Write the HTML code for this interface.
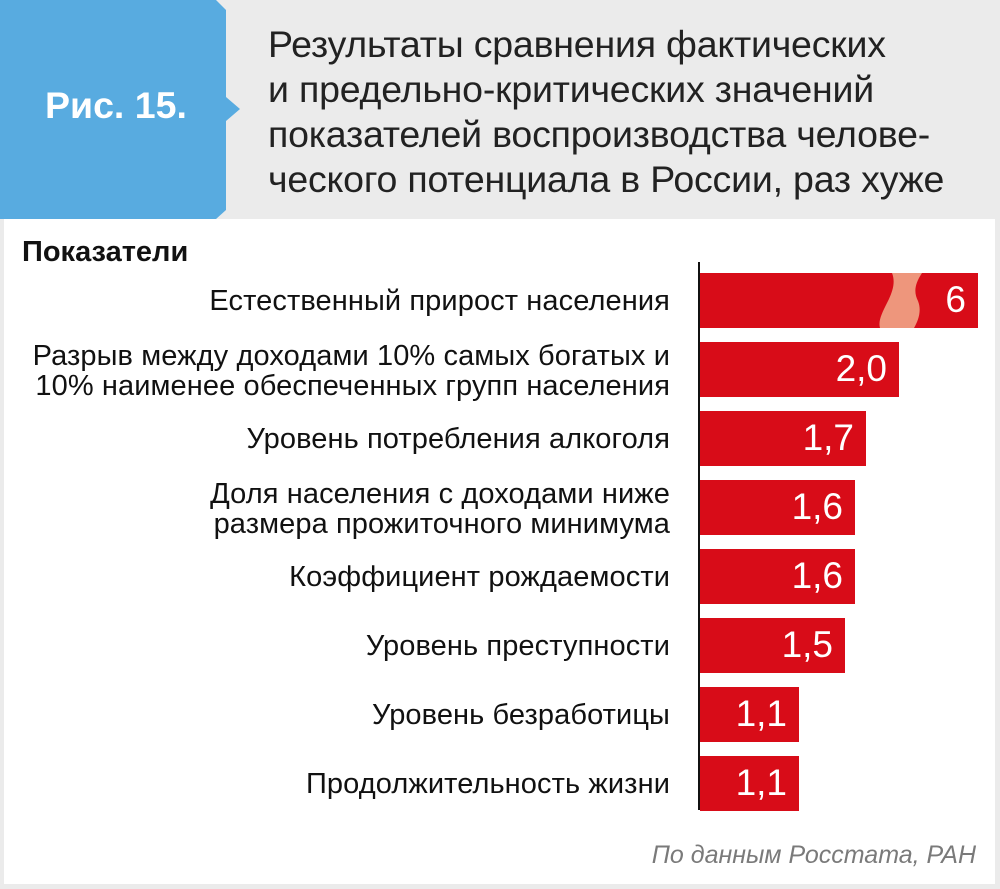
<!DOCTYPE html>
<html><head><meta charset="utf-8"><style>
body{margin:0;width:1000px;height:889px;background:#ebebeb;position:relative;overflow:hidden;font-family:"Liberation Sans","DejaVu Sans",sans-serif;}
.a{position:absolute}
.panel{left:4px;top:219px;width:991px;height:665px;background:#fff}
.title{left:268px;top:22px;font-size:37.5px;line-height:45px;color:#222;letter-spacing:-0.2px;white-space:nowrap}
.lab{position:absolute;right:330px;font-size:29px;line-height:30px;color:#111;text-align:right;white-space:nowrap;letter-spacing:0.1px}
.bar{position:absolute;left:700px;height:55px;background:#d80c18}
.v{position:absolute;right:12px;top:7px;color:#fff;font-size:37px;line-height:40px}
</style></head><body>
<svg class="a" style="left:0;top:0" width="245" height="220">
<polygon points="0,0 216,0 226,10 226,97 240,109 226,121 226,210 216,219 0,219" fill="#58abe0"/>
</svg>
<div class="a" style="left:45px;top:84px;font-size:37.5px;font-weight:bold;color:#fff">Рис. 15.</div>
<div class="a title">Результаты сравнения фактических<br>и предельно-критических значений<br>показателей воспроизводства челове-<br>ческого потенциала в России, раз хуже</div>
<div class="a panel"></div>
<div class="a" style="left:22px;top:236px;font-size:29px;font-weight:bold;color:#111">Показатели</div>
<div class="a" style="left:698px;top:262px;width:2px;height:548px;background:#111"></div>

<div class="lab" style="top:286px">Естественный прирост населения</div>
<div class="bar" style="top:273px;width:278px">
<svg class="a" style="left:178px;top:0" width="50" height="55"><path d="M14,0 H44 C36,12 36,20 40,28 C44,38 40,48 36,55 H2 C0,48 4,40 9,30 C14,20 18,10 14,0Z" fill="#ee967c"/></svg>
<div class="v">6</div></div>

<div class="lab" style="top:341px">Разрыв между доходами 10% самых богатых и<br>10% наименее обеспеченных групп населения</div>
<div class="bar" style="top:342px;width:199px"><div class="v">2,0</div></div>

<div class="lab" style="top:424px">Уровень потребления алкоголя</div>
<div class="bar" style="top:411px;width:166px"><div class="v">1,7</div></div>

<div class="lab" style="top:479px">Доля населения с доходами ниже<br>размера прожиточного минимума</div>
<div class="bar" style="top:480px;width:155px"><div class="v">1,6</div></div>

<div class="lab" style="top:562px">Коэффициент рождаемости</div>
<div class="bar" style="top:549px;width:155px"><div class="v">1,6</div></div>

<div class="lab" style="top:631px">Уровень преступности</div>
<div class="bar" style="top:618px;width:145px"><div class="v">1,5</div></div>

<div class="lab" style="top:700px">Уровень безработицы</div>
<div class="bar" style="top:687px;width:99px"><div class="v">1,1</div></div>

<div class="lab" style="top:769px">Продолжительность жизни</div>
<div class="bar" style="top:756px;width:99px"><div class="v">1,1</div></div>

<div class="a" style="right:24px;top:841px;font-size:25px;font-style:italic;color:#7a7a7a">По данным Росстата, РАН</div>
</body></html>
